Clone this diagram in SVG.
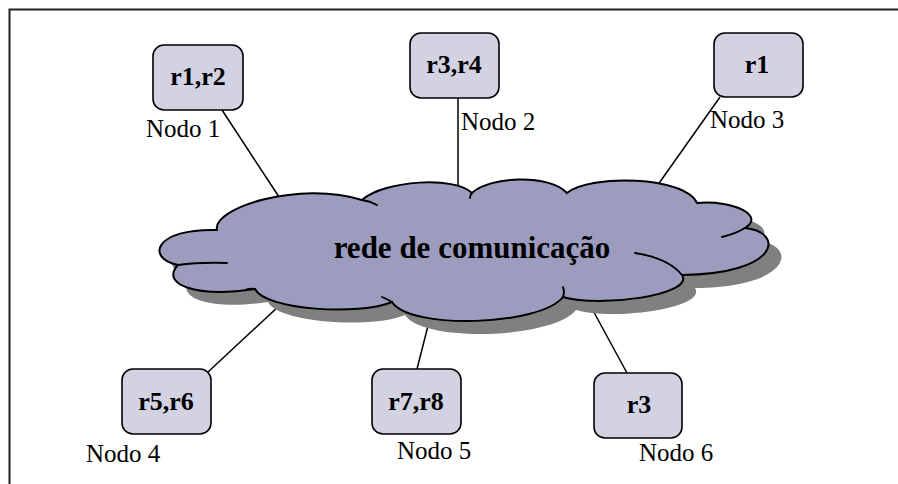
<svg xmlns="http://www.w3.org/2000/svg" width="898" height="484" viewBox="0 0 898 484">
<defs>
<style>
.box{fill:#D2D2E2;stroke:#000;stroke-width:1.6}
.lbl{font-family:"Liberation Serif","DejaVu Serif","Noto Serif",serif;font-weight:bold;font-size:26px;fill:#000;text-anchor:middle}
.nodo{font-family:"Liberation Serif","DejaVu Serif","Noto Serif",serif;font-size:25px;fill:#000}
.title{font-family:"Liberation Serif","DejaVu Serif","Noto Serif",serif;font-weight:bold;font-size:31px;fill:#000;text-anchor:middle}
.conn{stroke:#000;stroke-width:1.5;fill:none}
.inner{stroke:#000;stroke-width:1.8;fill:none;stroke-linecap:round}
</style>
<path id="cloudpath" d="M217,230 C212,208 300,180 362,200 C385,180 455,176 472,193 C490,176 550,174 567,193 C590,174 685,176 697,203 C735,200 765,216 745,228 C785,232 780,274 682,275 C695,295 600,308 563,297 C540,326 410,330 392,302 C360,316 265,310 255,289 C195,298 160,284 178,265 C145,258 155,228 217,230 Z"/>
</defs>
<rect x="9.5" y="9.5" width="950" height="550" fill="#fff" stroke="#222" stroke-width="2"/>
<g id="connectors">
<line class="conn" x1="222" y1="110" x2="285" y2="206"/>
<line class="conn" x1="458" y1="98" x2="458" y2="200"/>
<line class="conn" x1="720" y1="97" x2="650" y2="196"/>
<line class="conn" x1="208" y1="372" x2="280" y2="305"/>
<line class="conn" x1="417" y1="369" x2="430" y2="318"/>
<line class="conn" x1="627" y1="373" x2="590" y2="305"/>
</g>
<g id="cloud">
<use href="#cloudpath" transform="translate(13,13)" fill="#808080"/>
<use href="#cloudpath" fill="#9C9CBE" stroke="#000" stroke-width="2"/>
<path class="inner" d="M362,200 Q370,201 377,205"/>
<path class="inner" d="M472,193 Q470,195 470,198"/>
<path class="inner" d="M745,228 Q735,234 722,237"/>
<path class="inner" d="M682,275 Q668,258 635,253"/>
<path class="inner" d="M563,297 Q565,292 563,287"/>
<path class="inner" d="M392,302 Q387,299 382,297"/>
<path class="inner" d="M255,289 Q250,288 245,290"/>
<path class="inner" d="M178,265 Q200,262 227,263"/>
<text class="title" x="472" y="258">rede de comunicação</text>
</g>
<g id="node1">
<rect class="box" x="153" y="45" width="90" height="65" rx="11"/>
<text class="lbl" x="198" y="85">r1,r2</text>
<text class="nodo" x="146" y="137">Nodo 1</text>
</g>
<g id="node2">
<rect class="box" x="410" y="33" width="89" height="65" rx="11"/>
<text class="lbl" x="454" y="73">r3,r4</text>
<text class="nodo" x="461" y="130">Nodo 2</text>
</g>
<g id="node3">
<rect class="box" x="714" y="33" width="89" height="64" rx="11"/>
<text class="lbl" x="757" y="73">r1</text>
<text class="nodo" x="710" y="128">Nodo 3</text>
</g>
<g id="node4">
<rect class="box" x="122" y="369" width="89" height="65" rx="11"/>
<text class="lbl" x="166" y="410">r5,r6</text>
<text class="nodo" x="86" y="462">Nodo 4</text>
</g>
<g id="node5">
<rect class="box" x="372" y="369" width="89" height="65" rx="11"/>
<text class="lbl" x="416" y="410">r7,r8</text>
<text class="nodo" x="397" y="459">Nodo 5</text>
</g>
<g id="node6">
<rect class="box" x="594" y="373" width="88" height="65" rx="11"/>
<text class="lbl" x="639" y="413">r3</text>
<text class="nodo" x="639" y="461">Nodo 6</text>
</g>
</svg>
